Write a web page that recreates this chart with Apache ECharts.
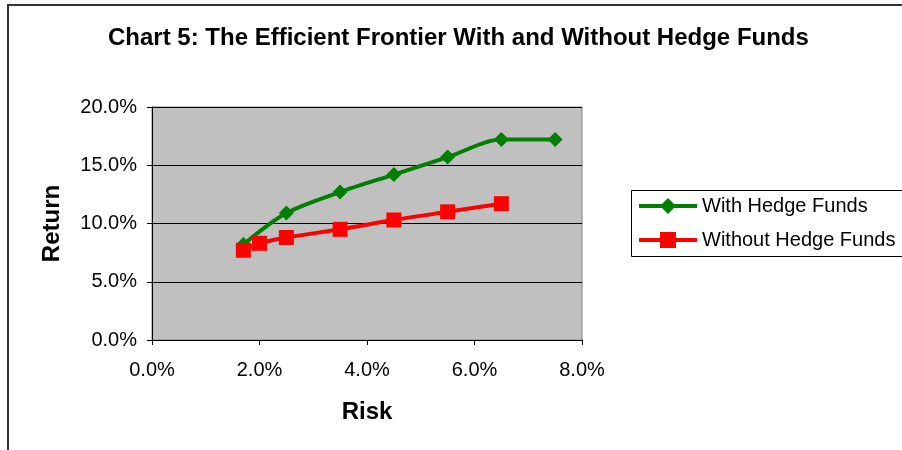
<!DOCTYPE html>
<html><head><meta charset="utf-8">
<script src="https://cdn.jsdelivr.net/npm/echarts@6/dist/echarts.min.js"></script>
<style>html,body{margin:0;padding:0;background:#fff}#c{width:902px;height:450px}</style>
</head><body><div id="c"></div>
<script>
const titleText = 'Chart 5: The Efficient Frontier With and Without Hedge Funds';
const seriesNames = ['With Hedge Funds', 'Without Hedge Funds'];
const riskWith = [1.7, 2.5, 3.5, 4.5, 5.5, 6.5, 7.5];
const returnWith = [8.2, 10.9, 12.7, 14.2, 15.7, 17.2, 17.2];
const riskWithout = [1.7, 2.0, 2.5, 3.5, 4.5, 5.5, 6.5];
const returnWithout = [7.7, 8.3, 8.8, 9.5, 10.3, 11.0, 11.7];
const xTicks = [0, 2, 4, 6, 8];
const yTicks = [0, 5, 10, 15, 20];

const font = 'Liberation Sans, Arial, sans-serif';
const pct = v => v.toFixed(1) + '%';
const chart = echarts.init(document.getElementById('c'));
chart.setOption({
  animation: false,
  backgroundColor: '#fff',
  title: {
    text: titleText, left: 108, top: 26, padding: 0,
    textStyle: {fontFamily: font, fontSize: 24, fontWeight: 'bold', color: '#000'}
  },
  graphic: [
    {type: 'polyline', shape: {points: [[8, 460], [8, 5], [910, 5]]},
     style: {stroke: '#333', lineWidth: 2, fill: null}, z: 0},
    {type: 'rect', shape: {x: 631.5, y: 190.5, width: 290, height: 66},
     style: {stroke: '#000', lineWidth: 1, fill: '#fff'}, z: 0}
  ],
  legend: {
    orient: 'vertical', left: 637, top: 196, itemGap: 14, padding: 0,
    itemWidth: 58, itemHeight: 20,
    data: seriesNames,
    lineStyle: {width: 4},
    textStyle: {fontFamily: font, fontSize: 20, color: '#000'},
    z: 5
  },
  grid: {left: 152, right: 320, top: 107, bottom: 110,
    show: true, backgroundColor: '#c0c0c0', borderColor: '#808080', borderWidth: 1},
  xAxis: {
    type: 'value', min: xTicks[0], max: xTicks[xTicks.length - 1], interval: 2,
    name: 'Risk', nameLocation: 'middle', nameGap: 60,
    nameTextStyle: {fontFamily: font, fontSize: 24, fontWeight: 'bold', color: '#000'},
    axisLine: {show: true, lineStyle: {color: '#000', width: 1}},
    axisTick: {show: true, length: 5, lineStyle: {color: '#000'}},
    axisLabel: {formatter: pct, fontFamily: font, fontSize: 20, color: '#000', margin: 20},
    splitLine: {show: false}
  },
  yAxis: {
    type: 'value', min: yTicks[0], max: yTicks[yTicks.length - 1], interval: 5,
    name: 'Return', nameLocation: 'middle', nameGap: 88, nameRotate: 90,
    nameTextStyle: {fontFamily: font, fontSize: 24, fontWeight: 'bold', color: '#000'},
    axisLine: {show: true, lineStyle: {color: '#000', width: 1}},
    axisTick: {show: true, length: 5, lineStyle: {color: '#000'}},
    axisLabel: {formatter: pct, fontFamily: font, fontSize: 20, color: '#000', margin: 15},
    splitLine: {show: true, lineStyle: {color: '#000', width: 1}}
  },
  series: [
    {name: seriesNames[0], type: 'line', smooth: 0.3,
     data: riskWith.map((x, i) => [x, returnWith[i]]),
     symbol: 'diamond', symbolSize: 15,
     lineStyle: {color: '#008000', width: 4}, itemStyle: {color: '#008000'}, z: 3},
    {name: seriesNames[1], type: 'line', smooth: 0.3,
     data: riskWithout.map((x, i) => [x, returnWithout[i]]),
     symbol: 'rect', symbolSize: 15,
     lineStyle: {color: '#ff0000', width: 4}, itemStyle: {color: '#ff0000'}, z: 4}
  ]
});
</script></body></html>
